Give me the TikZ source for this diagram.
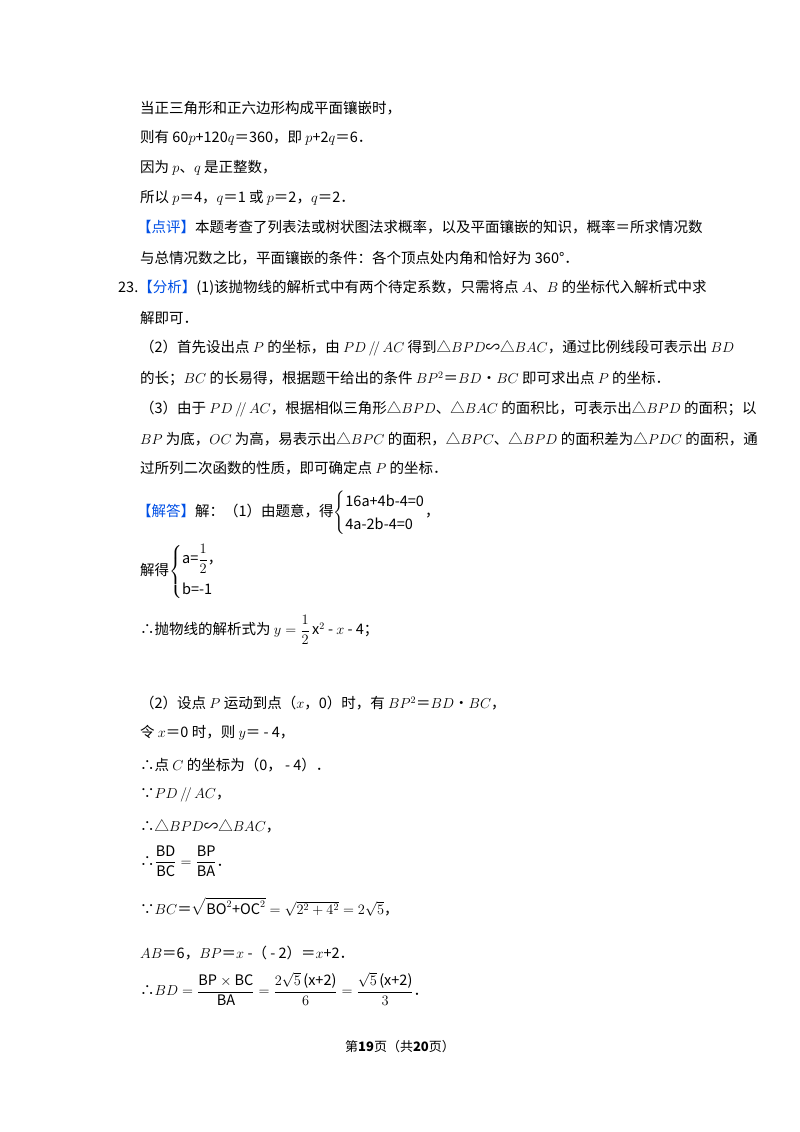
\documentclass[tikz,border=0pt]{standalone}
\usepackage{fontspec}
\usepackage{amsmath,amssymb}
\setmainfont{Noto Sans CJK SC}
\definecolor{myblue}{RGB}{0,80,230}
\newcommand{\bl}[1]{{\color{myblue}#1}}
\begin{document}
\begin{tikzpicture}[x=1pt,y=-1pt,
  ln/.style={anchor=west,inner sep=0pt,font=\fontsize{14.5}{17}\selectfont}]
\useasboundingbox (0,0) rectangle (800,1132);
\fill[white] (0,0) rectangle (800,1132);
\node[ln] (l1) at (140,108) {当正三角形和正六边形构成平面镶嵌时，};
\node[ln] (l2) at (140,138) {则有 60$p$+120$q$＝360，即 $p$+2$q$＝6．};
\node[ln] (l3) at (140,168) {因为 $p$、$q$ 是正整数，};
\node[ln] (l4) at (140,198) {所以 $p$＝4，$q$＝1 或 $p$＝2，$q$＝2．};
\node[ln] (l5) at (137,227) {\bl{【点评】}本题考查了列表法或树状图法求概率，以及平面镶嵌的知识，概率＝所求情况数};
\node[ln] (l6) at (140,258) {与总情况数之比，平面镶嵌的条件：各个顶点处内角和恰好为 360°．};
\node[ln] (l7) at (118,288) {23.\bl{【分析】}(1)该抛物线的解析式中有两个待定系数，只需将点 $A$、$B$ 的坐标代入解析式中求};
\node[ln] (l8) at (140,318) {解即可．};
\node[ln] (l9) at (140,348) {（2）首先设出点 $P$ 的坐标，由 $PD\,/\!/\,AC$ 得到△$BPD$∽△$BAC$，通过比例线段可表示出 $BD$};
\node[ln] (l10) at (140,379) {的长；$BC$ 的长易得，根据题干给出的条件 $BP^2$＝$BD$•$BC$ 即可求出点 $P$ 的坐标．};
\node[ln] (l11) at (140,409) {（3）由于 $PD\,/\!/\,AC$，根据相似三角形△$BPD$、△$BAC$ 的面积比，可表示出△$BPD$ 的面积；以};
\node[ln] (l12) at (140,439) {$BP$ 为底，$OC$ 为高，易表示出△$BPC$ 的面积，△$BPC$、△$BPD$ 的面积差为△$PDC$ 的面积，通};
\node[ln] (l13) at (140,468) {过所列二次函数的性质，即可确定点 $P$ 的坐标．};
\node[ln] (l14) at (137,513) {\bl{【解答】}解：（1）由题意，得$\renewcommand\arraystretch{1.35}\left\{\begin{array}{@{}l@{}}\text{16a+4b-4=0}\\ \text{4a-2b-4=0}\end{array}\right.$，};
\node[ln] (l15) at (140,572) {解得$\left\{\begin{array}{@{}l@{}}\text{a=}\dfrac{1}{2}\text{，}\\[14pt] \text{b=-1}\end{array}\right.$};
\node[ln] (l16) at (140,630) {∴抛物线的解析式为 $y=\dfrac{1}{2}\,\text{x}^{2}$ - $x$ - 4；};
\node[ln] (l17) at (140,703) {（2）设点 $P$ 运动到点（$x$，0）时，有 $BP^2$＝$BD$•$BC$，};
\node[ln] (l18) at (140,733) {令 $x$＝0 时，则 $y$＝ - 4，};
\node[ln] (l19) at (140,765) {∴点 $C$ 的坐标为（0， - 4）．};
\node[ln] (l20) at (140,795) {∵$PD\,/\!/\,AC$，};
\node[ln] (l21) at (140,826) {∴△$BPD$∽△$BAC$，};
\node[ln] (l22) at (140,861) {∴$\dfrac{\text{BD}}{\text{BC}}=\dfrac{\text{BP}}{\text{BA}}$．};
\node[ln] (l23) at (140,907) {∵$BC$＝$\sqrt{\text{BO}^2\text{+OC}^2}=\sqrt{2^2+4^2}=2\sqrt{5}$，};
\node[ln] (l24) at (140,953) {$AB$＝6，$BP$＝$x$ -（ - 2）＝$x$+2．};
\node[ln] (l25) at (140,989) {∴$BD=\dfrac{\text{BP}\times\text{BC}}{\text{BA}}=\dfrac{2\sqrt{5}\,\text{(x+2)}}{6}=\dfrac{\sqrt{5}\,\text{(x+2)}}{3}$．};
\node[anchor=center,inner sep=0pt,font=\fontsize{13}{15}\selectfont] (ft) at (400,1047) {第\textbf{19}页（共\textbf{20}页）};
\end{tikzpicture}
\end{document}
